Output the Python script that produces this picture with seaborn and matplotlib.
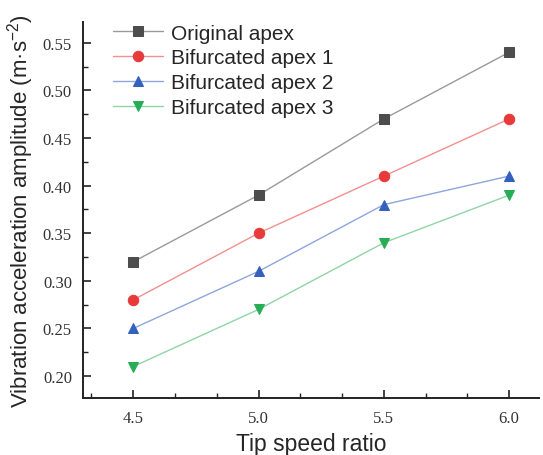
import matplotlib
matplotlib.use("Agg")
import matplotlib.pyplot as plt
import matplotlib.ticker as mticker
import seaborn as sns
import pandas as pd

tsr = [4.5, 5.0, 5.5, 6.0]
original = [0.32, 0.39, 0.47, 0.54]
bifurcated_1 = [0.28, 0.35, 0.41, 0.47]
bifurcated_2 = [0.25, 0.31, 0.38, 0.41]
bifurcated_3 = [0.21, 0.27, 0.34, 0.39]

series = [
    ("Original apex", original, "#4d4d4d", "#9a9a9a", "s"),
    ("Bifurcated apex 1", bifurcated_1, "#e8393b", "#f2908f", "o"),
    ("Bifurcated apex 2", bifurcated_2, "#3461be", "#8ea6dc", "^"),
    ("Bifurcated apex 3", bifurcated_3, "#27ae55", "#8fd5a5", "v"),
]

sns.set_theme(style="ticks")
plt.rcParams["font.family"] = ["Liberation Sans", "DejaVu Sans"]

fig = plt.figure(figsize=(5.43, 4.56), dpi=100)
ax = fig.add_axes([0.153, 0.125, 0.84, 0.825])

for name, vals, dark, light, mk in series:
    df = pd.DataFrame({"tsr": tsr, "amp": vals})
    sns.lineplot(data=df, x="tsr", y="amp", ax=ax, label=name, color=light,
                 linewidth=1.0, marker=mk, markersize=7.5,
                 markerfacecolor=dark, markeredgecolor=dark)

ax.set_xlim(4.3, 6.12)
ax.set_ylim(0.177, 0.572)
ax.set_xticks(tsr)
ax.set_yticks([0.20, 0.25, 0.30, 0.35, 0.40, 0.45, 0.50, 0.55])
ax.xaxis.set_minor_locator(mticker.AutoMinorLocator(3))
ax.yaxis.set_minor_locator(mticker.AutoMinorLocator(2))
ax.xaxis.set_major_formatter(mticker.FormatStrFormatter("%.1f"))
ax.yaxis.set_major_formatter(mticker.FormatStrFormatter("%.2f"))
ax.tick_params(which="major", direction="in", length=6, width=1.2, labelsize=12,
               color="#222222", labelcolor="#333333")
ax.tick_params(which="minor", direction="in", length=3.5, width=1.0, color="#222222")
for lab in ax.get_xticklabels() + ax.get_yticklabels():
    lab.set_family(["Liberation Serif", "DejaVu Serif"])
ax.tick_params(axis="x", pad=9)
ax.tick_params(axis="y", pad=8)

for side in ["top", "right"]:
    ax.spines[side].set_visible(False)
for side in ["left", "bottom"]:
    ax.spines[side].set_linewidth(1.4)
    ax.spines[side].set_color("#222222")

ax.set_xlabel("Tip speed ratio", fontsize=16.5, labelpad=4)
ax.set_ylabel("Vibration acceleration amplitude (m·s$^{\\mathregular{-2}}$)", fontsize=16, labelpad=5)

ax.legend(loc="upper left", bbox_to_anchor=(0.025, 1.045), frameon=False, fontsize=15,
          handlelength=2.4, labelspacing=0.28, handletextpad=0.35)

fig.savefig("out.png", dpi=100)
